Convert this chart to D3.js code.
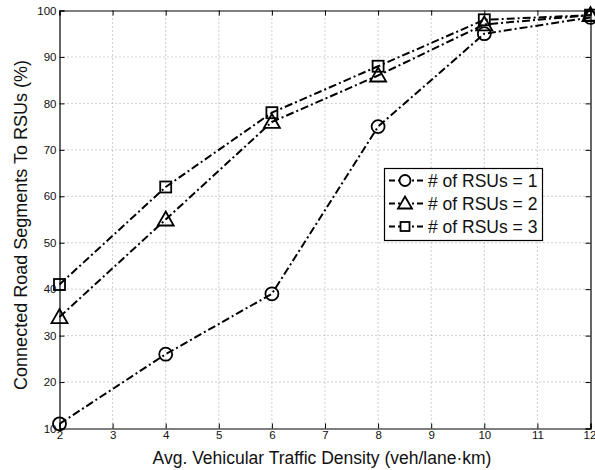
<!DOCTYPE html>
<html><head><meta charset="utf-8">
<script src="https://cdn.jsdelivr.net/npm/d3@7/dist/d3.min.js"></script>
<style>body{margin:0;background:#fff;} svg{display:block;font-family:"Liberation Sans",Arial,sans-serif;}</style>
</head><body><svg id="c" width="595" height="470"></svg>
<script>
const xValues = [2, 4, 6, 8, 10, 12];
const rsu1 = [11, 26, 39, 75, 95, 98.5];
const rsu2 = [34, 55, 76, 86, 97, 99];
const rsu3 = [41, 62, 78, 88, 98, 99];
const seriesNames = ["# of RSUs = 1", "# of RSUs = 2", "# of RSUs = 3"];
const seriesMarkers = ["circle", "triangle", "square"];
const xTicks = [2,3,4,5,6,7,8,9,10,11,12];
const yTicks = [10,20,30,40,50,60,70,80,90,100];
const xLabel = "Avg. Vehicular Traffic Density (veh/lane\u00B7km)";
const yLabel = "Connected Road Segments To RSUs (%)";

const svg = d3.select("#c");
const L = 59.5, R = 590.5, T = 10.5, B = 428.5;
const x = d3.scaleLinear().domain([2,12]).range([L,R]);
const y = d3.scaleLinear().domain([10,100]).range([B,T]);

// grid
const g = svg.append("g");
g.selectAll(".gx").data(xTicks.slice(1,-1)).enter().append("line")
 .attr("x1",d=>x(d)).attr("x2",d=>x(d)).attr("y1",T).attr("y2",B)
 .attr("stroke","#888").attr("stroke-width",0.8).attr("stroke-dasharray","1,3");
g.selectAll(".gy").data(yTicks.slice(1,-1)).enter().append("line")
 .attr("y1",d=>y(d)).attr("y2",d=>y(d)).attr("x1",L).attr("x2",R)
 .attr("stroke","#888").attr("stroke-width",0.8).attr("stroke-dasharray","1,3");

// axes
const ax = svg.append("g").attr("transform",`translate(0,${B})`)
 .call(d3.axisBottom(x).tickValues(xTicks).tickSize(-5).tickPadding(8).tickFormat(d3.format("d")));
const axT = svg.append("g").attr("transform",`translate(0,${T})`)
 .call(d3.axisTop(x).tickValues(xTicks).tickSize(-5).tickFormat(""));
const ay = svg.append("g").attr("transform",`translate(${L},0)`)
 .call(d3.axisLeft(y).tickValues(yTicks).tickSize(-5).tickPadding(3).tickFormat(d3.format("d")));
const ayR = svg.append("g").attr("transform",`translate(${R},0)`)
 .call(d3.axisRight(y).tickValues(yTicks).tickSize(-5).tickFormat(""));
[ax,axT,ay,ayR].forEach(a=>{
  a.selectAll("path").attr("stroke","#000").attr("stroke-width",1.2);
  a.selectAll("line").attr("stroke","#000");
  a.selectAll("text").attr("fill","#111").style("font-size","11.5px").style("font-family","'Liberation Sans',Arial,sans-serif");
});
ax.selectAll("text").attr("dy","0.2em");
ax.selectAll(".tick").filter(d=>d===12).select("text").attr("x",-1);

svg.append("text").attr("x",322).attr("y",464).attr("text-anchor","middle")
 .style("font-size","17.5px").attr("fill","#111").text(xLabel);
svg.append("text").attr("transform",`translate(27,225) rotate(-90)`).attr("text-anchor","middle")
 .style("font-size","18px").attr("fill","#111").text(yLabel);

const data = [rsu1, rsu2, rsu3];
const line = d3.line().x((d,i)=>x(xValues[i])).y(d=>y(d));
const dash = "8,3,2,3";
function marker(sel, type, cx, cy){
  if(type==="circle") sel.append("circle").attr("cx",cx).attr("cy",cy).attr("r",6.5);
  else if(type==="triangle") sel.append("path").attr("d",`M${cx},${cy-8}L${cx+8},${cy+6}L${cx-8},${cy+6}Z`);
  else sel.append("rect").attr("x",cx-5.5).attr("y",cy-5.5).attr("width",11).attr("height",11);
}
data.forEach((s,k)=>{
  svg.append("path").datum(s).attr("d",line).attr("fill","none").attr("stroke","#000")
   .attr("stroke-width",2).attr("stroke-dasharray",dash);
  const mg = svg.append("g").attr("fill","none").attr("stroke","#000").attr("stroke-width",1.8);
  s.forEach((v,i)=>marker(mg, seriesMarkers[k], x(xValues[i]), y(v)));
});

// legend
const lg = svg.append("g");
lg.append("rect").attr("x",384.5).attr("y",168.5).attr("width",158).attr("height",72)
 .attr("fill","#fff").attr("stroke","#000").attr("stroke-width",1.2);
seriesNames.forEach((n,k)=>{
  const yy = 180.5 + k*23;
  lg.append("line").attr("x1",389).attr("x2",423).attr("y1",yy).attr("y2",yy)
   .attr("stroke","#000").attr("stroke-width",2).attr("stroke-dasharray","6,3,2,3");
  const mg = lg.append("g").attr("fill","#fff").attr("stroke","#000").attr("stroke-width",1.8);
  if(seriesMarkers[k]==="circle") mg.append("circle").attr("cx",405).attr("cy",yy).attr("r",5.5);
  else if(seriesMarkers[k]==="triangle") mg.append("path").attr("d",`M405,${yy-7}L412,${yy+5}L398,${yy+5}Z`);
  else mg.append("rect").attr("x",400.5).attr("y",yy-4.5).attr("width",9).attr("height",9);
  lg.append("text").attr("x",428).attr("y",yy+6).style("font-size","17.5px").attr("fill","#111").text(n);
});
</script></body></html>
